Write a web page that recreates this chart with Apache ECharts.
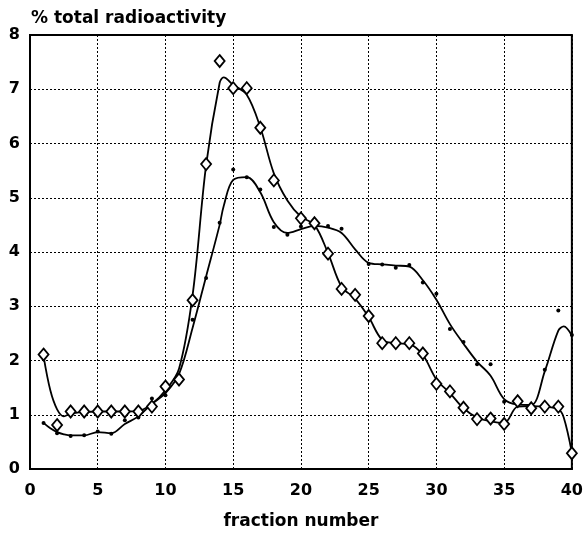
<!DOCTYPE html>
<html>
<head>
<meta charset="utf-8">
<script src="https://cdn.jsdelivr.net/npm/echarts@6/dist/echarts.min.js"></script>
<style>
  html, body { margin: 0; padding: 0; background: #fff; }
  #chart { width: 586px; height: 535px; }
</style>
</head>
<body>
<div id="chart"></div>
<script>
// fraction numbers 1..40
const fractions = [1,2,3,4,5,6,7,8,9,10,11,12,13,14,15,16,17,18,19,20,
                   21,22,23,24,25,26,27,28,29,30,31,32,33,34,35,36,37,38,39,40];

// measured points (% total radioactivity), null = no point drawn
const diamondPct = [2.11,0.81,1.06,1.06,1.06,1.06,1.06,1.06,1.15,1.52,
                    1.65,3.11,5.62,7.52,7.02,7.02,6.29,5.32,null,4.62,
                    4.53,3.97,3.32,3.21,2.82,2.32,2.32,2.32,2.13,1.57,
                    1.43,1.13,0.92,0.93,0.83,1.25,1.12,1.15,1.15,0.29];
const dotPct = [0.85,0.66,0.61,0.62,0.69,0.65,0.90,0.95,1.30,1.36,
                1.72,2.75,3.52,4.54,5.52,5.38,5.15,4.46,4.32,4.47,
                4.52,4.48,4.43,null,3.78,3.77,3.71,3.76,3.44,3.23,
                2.58,2.34,1.93,1.93,1.24,1.21,1.16,1.83,2.92,2.47];

// fitted curves
const curveX = [1,1.5,2,2.5,3,4,5,6,7,8,9,10,11,12,13,14,14.3,15,16,17,18,19,20,
                21,22,23,24,25,26,27,28,29,30,31,32,33,34,35,36,37,38,39,39.4,40];
const diamondCurve = [2.08,1.45,1.1,0.97,1.02,1.05,1.06,1.06,1.06,1.07,1.2,1.45,1.85,3.2,5.6,7.12,7.22,7.08,6.9,6.3,5.45,4.95,4.65,
                      4.5,3.98,3.36,3.14,2.8,2.38,2.32,2.3,2.1,1.65,1.4,1.12,0.95,0.88,0.85,1.15,1.16,1.15,1.1,0.95,0.3];
const dotCurve = [0.85,0.75,0.68,0.64,0.62,0.62,0.68,0.66,0.83,0.97,1.2,1.4,1.75,2.6,3.55,4.5,4.85,5.33,5.38,5.1,4.55,4.35,4.42,
                  4.48,4.45,4.35,4.05,3.8,3.77,3.75,3.73,3.48,3.12,2.67,2.31,1.98,1.72,1.29,1.19,1.18,1.8,2.55,2.63,2.46];

const font = '"DejaVu Sans", Arial, sans-serif';
const pairs = (xs, ys) => xs.map((x, i) => [x, ys[i]]).filter(p => p[1] !== null);

const chart = echarts.init(document.getElementById('chart'));
chart.setOption({
  animation: false,
  backgroundColor: '#fff',
  title: {
    text: '% total radioactivity',
    left: 26, top: 5,
    textStyle: { fontFamily: font, fontSize: 17, fontWeight: 'bold', color: '#000' }
  },
  grid: {
    left: 30, right: 13, top: 35, bottom: 57,
    show: true, borderColor: '#000', borderWidth: 2
  },
  xAxis: {
    type: 'value', min: 0, max: 40, interval: 5,
    name: 'fraction number', nameLocation: 'middle', nameGap: 44,
    nameTextStyle: { fontFamily: font, fontSize: 17, fontWeight: 'bold', color: '#000' },
    axisLine: { show: true, lineStyle: { color: '#000', width: 2 } },
    axisTick: { show: false },
    axisLabel: { margin: 14, fontFamily: font, fontSize: 16, fontWeight: 'bold', color: '#000' },
    splitLine: { show: true, lineStyle: { color: '#000', type: [2, 2], width: 1 } }
  },
  yAxis: {
    type: 'value', min: 0, max: 8, interval: 1,
    axisLine: { show: true, lineStyle: { color: '#000', width: 2 } },
    axisTick: { show: false },
    axisLabel: { margin: 10, fontFamily: font, fontSize: 16, fontWeight: 'bold', color: '#000' },
    splitLine: { show: true, lineStyle: { color: '#000', type: [2, 2], width: 1 } }
  },
  series: [
    {
      type: 'line', data: pairs(curveX, diamondCurve), smooth: 0.35,
      showSymbol: false, lineStyle: { color: '#000', width: 1.8 }, z: 2
    },
    {
      type: 'line', data: pairs(curveX, dotCurve), smooth: 0.35,
      showSymbol: false, lineStyle: { color: '#000', width: 1.8 }, z: 2
    },
    {
      type: 'scatter', data: pairs(fractions, dotPct),
      symbol: 'circle', symbolSize: 4,
      itemStyle: { color: '#000', opacity: 1 }, z: 3
    },
    {
      type: 'scatter', data: pairs(fractions, diamondPct),
      symbol: 'diamond', symbolSize: [10, 12],
      itemStyle: { color: '#fff', borderColor: '#000', borderWidth: 1.8, opacity: 1 }, z: 4
    }
  ]
});
</script>
</body>
</html>
